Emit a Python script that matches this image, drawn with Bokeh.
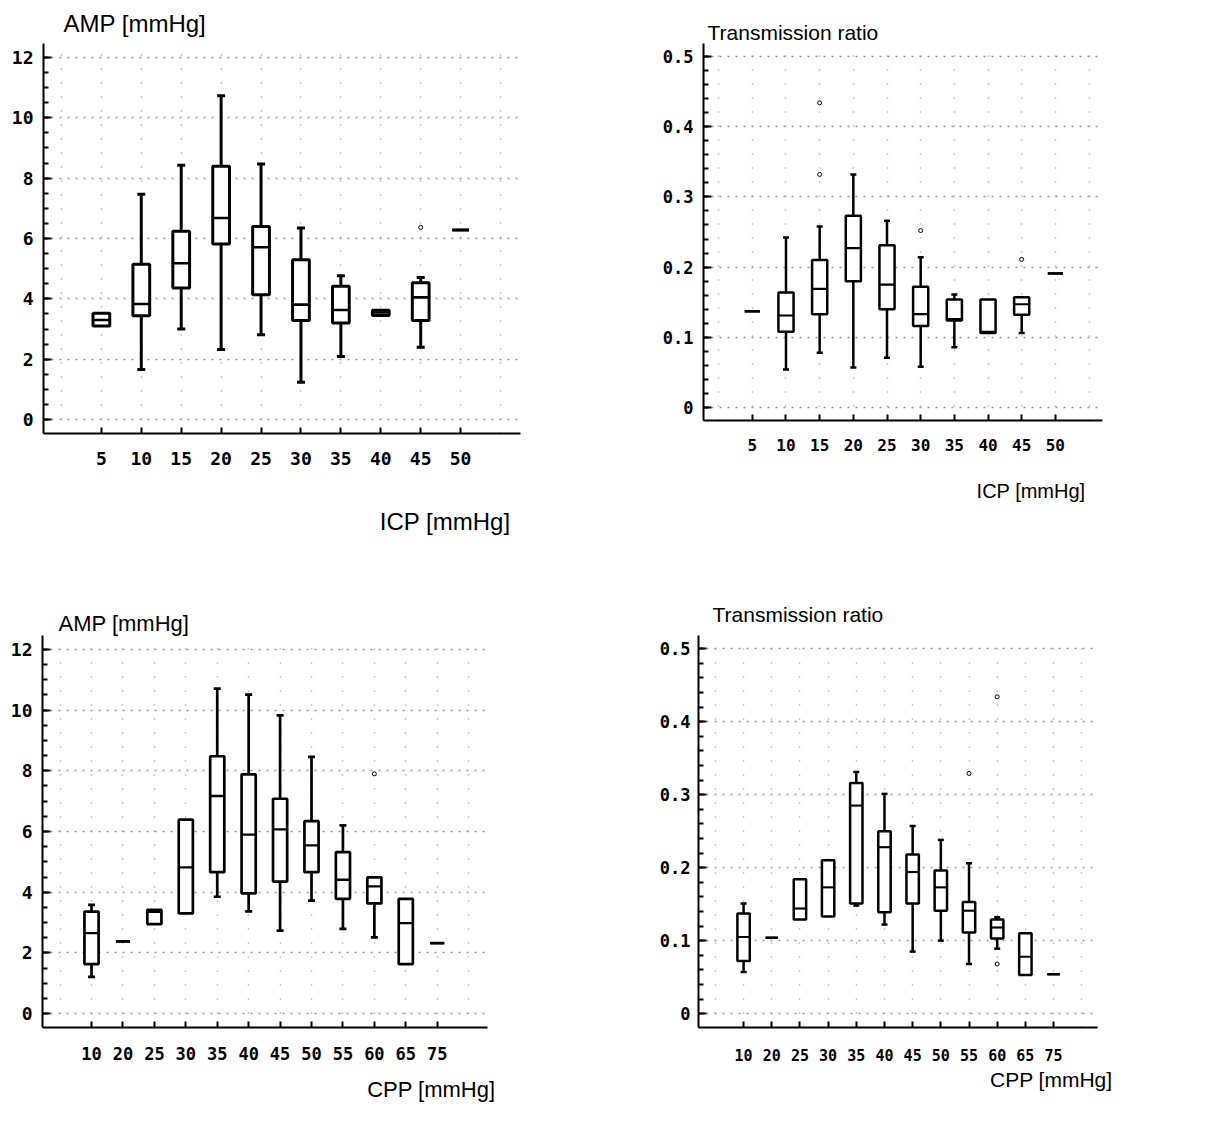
from bokeh.plotting import figure
from bokeh.models import FixedTicker, Title, CustomJSTickFormatter, ColumnDataSource
from bokeh.layouts import column, row
from bokeh.embed import file_html
from bokeh.resources import INLINE

# ---------------- data ----------------
icp_labels = ["5", "10", "15", "20", "25", "30", "35", "40", "45", "50"]
cpp_labels = ["10", "20", "25", "30", "35", "40", "45", "50", "55", "60", "65", "75"]

# AMP vs ICP
amp_icp_low  = [3.10, 1.66, 3.00, 2.32, 2.81, 1.24, 2.09, 3.45, 2.40, 6.28]
amp_icp_q1   = [3.10, 3.44, 4.36, 5.82, 4.14, 3.28, 3.20, 3.45, 3.28, 6.28]
amp_icp_med  = [3.30, 3.83, 5.18, 6.68, 5.71, 3.81, 3.63, 3.55, 4.05, 6.28]
amp_icp_q3   = [3.52, 5.15, 6.24, 8.39, 6.40, 5.30, 4.42, 3.62, 4.53, 6.28]
amp_icp_high = [3.52, 7.47, 8.43, 10.73, 8.47, 6.35, 4.77, 3.62, 4.71, 6.28]
amp_icp_out_cat = ["45"]
amp_icp_out_val = [6.37]

# Transmission ratio vs ICP
tr_icp_low  = [0.137, 0.054, 0.078, 0.057, 0.071, 0.058, 0.086, 0.106, 0.106, 0.191]
tr_icp_q1   = [0.137, 0.108, 0.133, 0.180, 0.140, 0.116, 0.124, 0.106, 0.132, 0.191]
tr_icp_med  = [0.137, 0.131, 0.169, 0.227, 0.175, 0.133, 0.126, 0.108, 0.147, 0.191]
tr_icp_q3   = [0.137, 0.164, 0.210, 0.273, 0.231, 0.172, 0.154, 0.154, 0.157, 0.191]
tr_icp_high = [0.137, 0.242, 0.258, 0.332, 0.266, 0.214, 0.161, 0.154, 0.157, 0.191]
tr_icp_out_cat = ["15", "15", "30", "45"]
tr_icp_out_val = [0.434, 0.332, 0.252, 0.211]

# AMP vs CPP
amp_cpp_low  = [1.21, 2.38, 2.95, 3.30, 3.85, 3.37, 2.73, 3.72, 2.79, 2.51, 1.63, 2.32]
amp_cpp_q1   = [1.63, 2.38, 2.95, 3.30, 4.66, 3.96, 4.35, 4.66, 3.78, 3.63, 1.63, 2.32]
amp_cpp_med  = [2.65, 2.38, 3.35, 4.82, 7.17, 5.90, 6.07, 5.54, 4.41, 4.19, 2.98, 2.32]
amp_cpp_q3   = [3.36, 2.38, 3.42, 6.39, 8.48, 7.88, 7.08, 6.34, 5.32, 4.49, 3.78, 2.32]
amp_cpp_high = [3.58, 2.38, 3.42, 6.39, 10.71, 10.51, 9.83, 8.46, 6.20, 4.49, 3.78, 2.32]
amp_cpp_out_cat = ["60"]
amp_cpp_out_val = [7.90]

# Transmission ratio vs CPP
tr_cpp_low  = [0.057, 0.104, 0.129, 0.133, 0.148, 0.122, 0.085, 0.100, 0.068, 0.089, 0.053, 0.054]
tr_cpp_q1   = [0.072, 0.104, 0.129, 0.133, 0.151, 0.139, 0.151, 0.141, 0.111, 0.103, 0.053, 0.054]
tr_cpp_med  = [0.105, 0.104, 0.144, 0.173, 0.285, 0.228, 0.194, 0.173, 0.141, 0.118, 0.078, 0.054]
tr_cpp_q3   = [0.137, 0.104, 0.184, 0.210, 0.316, 0.250, 0.218, 0.196, 0.153, 0.129, 0.110, 0.054]
tr_cpp_high = [0.151, 0.104, 0.184, 0.210, 0.331, 0.301, 0.257, 0.238, 0.206, 0.132, 0.110, 0.054]
tr_cpp_out_cat = ["55", "60", "60"]
tr_cpp_out_val = [0.329, 0.434, 0.068]

amp_ticks = [0, 2, 4, 6, 8, 10, 12]
amp_minor = [i * 0.5 for i in range(25)]
tr_ticks = [0, 0.1, 0.2, 0.3, 0.4, 0.5]
tr_minor = [i * 0.02 for i in range(26)]

TITLE_FONT = "Liberation Sans"
TICK_FONT = "DejaVu Sans Mono"


def panel(labels, low, q1, med, q3, high, out_cat, out_val, *, width, height,
          borders, x_range, y_range, ticks, minor, tr, box_w, cap, lw,
          ytitle, ytitle_size, ytitle_offset, ytitle_standoff,
          xtitle, xtitle_size, xtitle_offset, xtitle_standoff,
          ytick_size, xtick_size, xstandoff, ystandoff):
    left, right, top, bottom = borders
    p = figure(width=width, height=height, output_backend="svg", toolbar_location=None,
               x_range=x_range, y_range=y_range, min_border_left=left,
               min_border_right=right, min_border_top=top, min_border_bottom=bottom)
    p.frame_align = False
    p.outline_line_color = None
    p.background_fill_color = "white"
    p.border_fill_color = "white"

    n = len(labels)
    xs = list(range(1, n + 1))
    slots = list(range(0, n + 2))

    # axes
    p.xaxis.ticker = FixedTicker(ticks=xs)
    p.xaxis.major_label_overrides = {x: lab for x, lab in zip(xs, labels)}
    p.xaxis.minor_tick_line_color = None
    p.xaxis.major_tick_in = 6
    p.xaxis.major_tick_out = 0
    p.xaxis.major_tick_line_width = 2
    p.xaxis.axis_line_width = 2
    p.xaxis.major_label_text_font = TICK_FONT
    p.xaxis.major_label_text_font_style = "bold"
    p.xaxis.major_label_text_font_size = f"{xtick_size}px"
    p.xaxis.major_label_standoff = xstandoff

    p.yaxis.ticker = FixedTicker(ticks=ticks, minor_ticks=minor)
    if tr:
        p.yaxis.formatter = CustomJSTickFormatter(
            code="return tick == 0 ? '0' : tick.toFixed(1);")
    else:
        p.yaxis.formatter = CustomJSTickFormatter(code="return tick.toFixed(0);")
    p.yaxis.major_tick_in = 8
    p.yaxis.major_tick_out = 0
    p.yaxis.minor_tick_in = 5
    p.yaxis.minor_tick_out = 0
    p.yaxis.major_tick_line_width = 2
    p.yaxis.minor_tick_line_width = 2
    p.yaxis.axis_line_width = 2
    p.yaxis.major_label_text_font = TICK_FONT
    p.yaxis.major_label_text_font_style = "bold"
    p.yaxis.major_label_text_font_size = f"{ytick_size}px"
    p.yaxis.major_label_standoff = ystandoff
    for ax in (p.xaxis, p.yaxis):
        ax.axis_line_color = "black"
        ax.major_tick_line_color = "black"
        ax.major_label_text_color = "black"
    p.yaxis.minor_tick_line_color = "black"

    # grids
    p.xgrid.ticker = FixedTicker(ticks=slots)
    p.xgrid.grid_line_color = "#999999"
    p.xgrid.grid_line_dash = "1 13"
    p.xgrid.grid_line_width = 1.5
    p.ygrid.ticker = FixedTicker(ticks=ticks)
    p.ygrid.grid_line_color = "#999999"
    p.ygrid.grid_line_dash = "2 6"
    p.ygrid.grid_line_width = 1.5

    src = ColumnDataSource(dict(x=xs, low=low, q1=q1, med=med, q3=q3, high=high,
                                xl=[x - box_w / 2 for x in xs],
                                xr=[x + box_w / 2 for x in xs]))
    # whiskers
    p.segment(x0="x", y0="q3", x1="x", y1="high", source=src, line_color="black",
              line_width=lw)
    p.segment(x0="x", y0="low", x1="x", y1="q1", source=src, line_color="black",
              line_width=lw)
    # caps where whisker extends beyond the box
    cx = [x for x, h, b in zip(xs, high, q3) if h > b] + \
         [x for x, l, b in zip(xs, low, q1) if l < b]
    cy = [h for h, b in zip(high, q3) if h > b] + \
         [l for l, b in zip(low, q1) if l < b]
    p.scatter(cx, cy, marker="dash", size=cap, line_color="black", line_width=lw)
    # boxes
    p.quad(left="xl", right="xr", bottom="q1", top="q3", source=src,
           fill_color="white", line_color="black", line_width=lw)
    # medians
    p.segment(x0="xl", y0="med", x1="xr", y1="med", source=src, line_color="black",
              line_width=lw * 0.85)
    # outliers
    ox = [labels.index(c) + 1 for c in out_cat]
    p.scatter(ox, out_val, marker="circle", size=4, line_color="black", line_width=1,
              fill_color="white")

    # titles
    p.title = Title(text=ytitle, align="left", offset=ytitle_offset,
                    standoff=ytitle_standoff, text_font=TITLE_FONT,
                    text_font_style="normal", text_font_size=f"{ytitle_size}px",
                    text_color="black")
    p.add_layout(Title(text=xtitle, align="right", offset=xtitle_offset,
                       standoff=xtitle_standoff, text_font=TITLE_FONT,
                       text_font_style="normal", text_font_size=f"{xtitle_size}px",
                       text_color="black"), "below")
    return p


p1 = panel(icp_labels, amp_icp_low, amp_icp_q1, amp_icp_med, amp_icp_q3, amp_icp_high,
           amp_icp_out_cat, amp_icp_out_val, width=600, height=590,
           borders=(43, 80, 43, 157), x_range=(-0.45, 11.5), y_range=(-0.46, 12.46),
           ticks=amp_ticks, minor=amp_minor, tr=False, box_w=0.42, cap=8, lw=3,
           ytitle="AMP [mmHg]", ytitle_size=24, ytitle_offset=20, ytitle_standoff=14,
           xtitle="ICP [mmHg]", xtitle_size=24, xtitle_offset=10, xtitle_standoff=77,
           ytick_size=18, xtick_size=18, xstandoff=18, ystandoff=10)

p2 = panel(icp_labels, tr_icp_low, tr_icp_q1, tr_icp_med, tr_icp_q3, tr_icp_high,
           tr_icp_out_cat, tr_icp_out_val, width=619, height=590,
           borders=(103, 117, 43, 170), x_range=(-0.45, 11.4), y_range=(-0.0185, 0.5185),
           ticks=tr_ticks, minor=tr_minor, tr=True, box_w=0.45, cap=6, lw=2.5,
           ytitle="Transmission ratio", ytitle_size=21, ytitle_offset=4, ytitle_standoff=0,
           xtitle="ICP [mmHg]", xtitle_size=20, xtitle_offset=17, xtitle_standoff=49,
           ytick_size=17, xtick_size=16, xstandoff=18, ystandoff=10)

p3 = panel(cpp_labels, amp_cpp_low, amp_cpp_q1, amp_cpp_med, amp_cpp_q3, amp_cpp_high,
           amp_cpp_out_cat, amp_cpp_out_val, width=600, height=538,
           borders=(42, 113, 45, 101), x_range=(-0.56, 13.6), y_range=(-0.46, 12.46),
           ticks=amp_ticks, minor=amp_minor, tr=False, box_w=0.45, cap=7, lw=2.7,
           ytitle="AMP [mmHg]", ytitle_size=22, ytitle_offset=16, ytitle_standoff=0,
           xtitle="CPP [mmHg]", xtitle_size=22, xtitle_offset=-8, xtitle_standoff=24,
           ytick_size=18, xtick_size=17, xstandoff=19, ystandoff=10)

p4 = panel(cpp_labels, tr_cpp_low, tr_cpp_q1, tr_cpp_med, tr_cpp_q3, tr_cpp_high,
           tr_cpp_out_cat, tr_cpp_out_val, width=619, height=538,
           borders=(98, 122, 45, 101), x_range=(-0.6, 13.56), y_range=(-0.019, 0.518),
           ticks=tr_ticks, minor=tr_minor, tr=True, box_w=0.44, cap=6, lw=2.5,
           ytitle="Transmission ratio", ytitle_size=21, ytitle_offset=14, ytitle_standoff=20,
           xtitle="CPP [mmHg]", xtitle_size=21, xtitle_offset=-15, xtitle_standoff=5,
           ytick_size=17, xtick_size=15, xstandoff=21, ystandoff=8)

layout = column(row(p1, p2), row(p3, p4))
open("out.html", "w").write(file_html(layout, INLINE))
